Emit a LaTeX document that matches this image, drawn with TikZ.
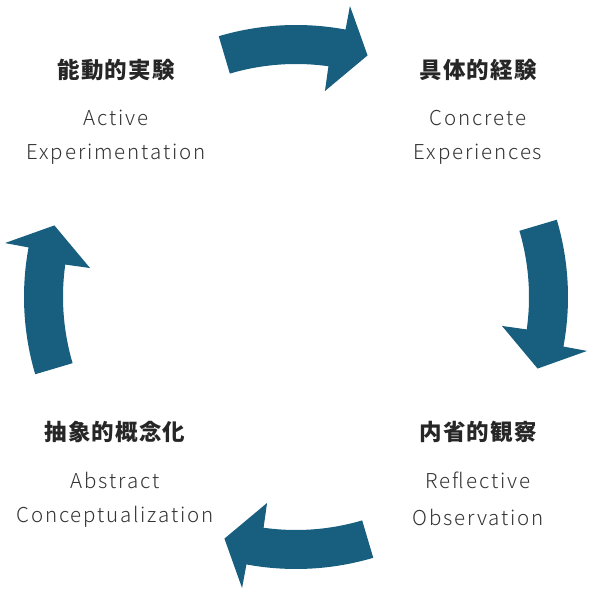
\documentclass[tikz,border=0pt]{standalone}
\usepackage{fontspec}
\setmainfont{Noto Sans CJK JP}
\newfontfamily\lightfont[LetterSpace=9]{Noto Sans CJK JP Light}
\usepackage{tikz}

\definecolor{cycleblue}{HTML}{175E7F}
\definecolor{textgray}{HTML}{333333}

\tikzset{
  stage/.style={font=\addfontfeatures{LetterSpace=5}\fontsize{22.5}{24}\selectfont\bfseries, text=black!85},
  stagetext/.style={font=\lightfont\fontsize{20.5}{22}\selectfont, text=textgray},
  cyclearrow/.style={fill=cycleblue}
}

\begin{document}
\begin{tikzpicture}[x=1pt,y=1pt]
  \useasboundingbox (0,0) rectangle (593,593);

  \node[stage] (ae) at (116,523) {能動的実験};
  \node[stagetext] (ae1) at (116,475) {Active};
  \node[stagetext] (ae2) at (116,439) {Experimentation};

  \node[stage] (ce) at (478,523) {具体的経験};
  \node[stagetext] (ce1) at (478,475) {Concrete};
  \node[stagetext] (ce2) at (478,439) {Experiences};

  \node[stage] (ro) at (478,161) {内省的観察};
  \node[stagetext] (ro1) at (478,113) {Reflective};
  \node[stagetext] (ro2) at (478,76) {Observation};

  \node[stage] (ac) at (115,161) {抽象的概念化};
  \node[stagetext] (ac1) at (115,113) {Abstract};
  \node[stagetext] (ac2) at (115,76) {Conceptualization};

  \foreach \a in {90,0,-90,180}
    \fill[cyclearrow,shift={(296,296)}]
      (\a+16.5:233) arc[start angle=\a+16.5, end angle=\a-8, radius=233]
      -- (\a-8:208) -- (\a-16.5:252) -- (\a-10.5:296) -- (\a-10.5:272)
      arc[start angle=\a-10.5, end angle=\a+16.5, radius=272] -- cycle;
\end{tikzpicture}
\end{document}
